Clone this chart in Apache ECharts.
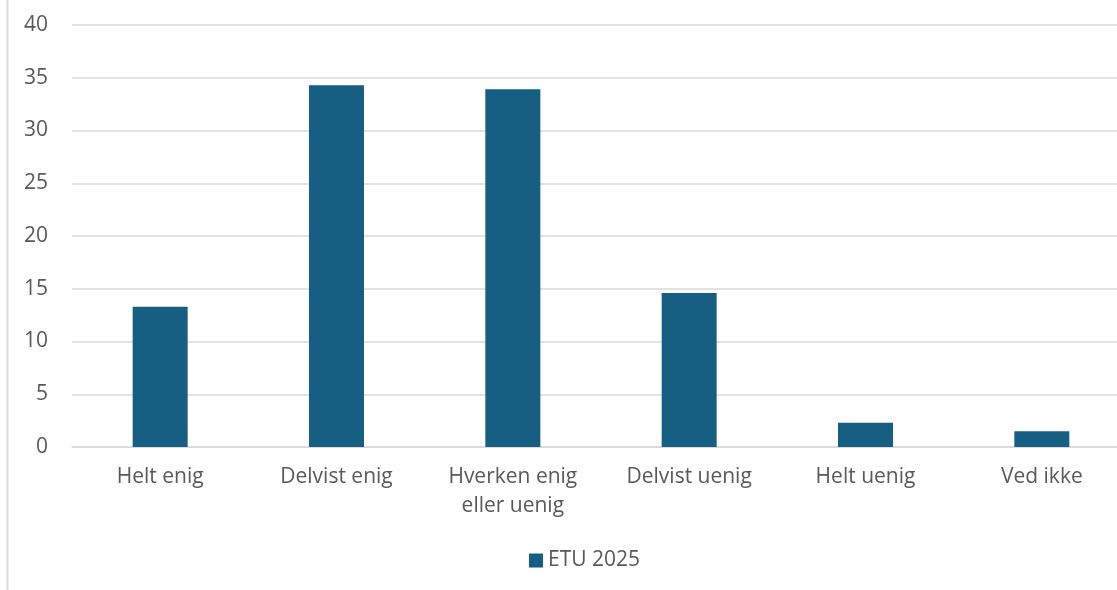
<!DOCTYPE html>
<html><head><meta charset="utf-8">
<script src="https://cdn.jsdelivr.net/npm/echarts@6/dist/echarts.min.js"></script>
<style>html,body{margin:0;padding:0;background:#fff;overflow:hidden}#c{width:1130px;height:590px}</style>
</head><body><div id="c"></div>
<script>
const categories = ['Helt enig', 'Delvist enig', 'Hverken enig\neller uenig', 'Delvist uenig', 'Helt uenig', 'Ved ikke'];
const seriesName = 'ETU 2025';
const values = [13.3, 34.3, 33.9, 14.6, 2.3, 1.5];
const yTicks = { min: 0, max: 40, interval: 5 };

const chart = echarts.init(document.getElementById('c'));
const font = '"Open Sans", "Liberation Sans", Arial, sans-serif';
const fs = 21;
chart.setOption({
  animation: false,
  textStyle: { fontFamily: font },
  grid: { left: 72, right: 0, top: 25, bottom: 143, containLabel: false },
  graphic: [{ type: 'line', shape: { x1: 7.5, y1: 0, x2: 7.5, y2: 590 }, style: { stroke: '#d9d9d9', lineWidth: 2 } }],
  legend: {
    data: [seriesName], top: 545, left: 524,
    itemWidth: 14, itemHeight: 14, itemGap: 6,
    icon: 'rect',
    textStyle: { color: '#595959', fontSize: fs, fontFamily: font }
  },
  xAxis: {
    type: 'category', data: categories,
    axisLine: { show: true, lineStyle: { color: '#d9d9d9', width: 1.5 } },
    axisTick: { show: false },
    axisLabel: { color: '#595959', fontSize: fs, margin: 16, lineHeight: 29, fontFamily: font, interval: 0 }
  },
  yAxis: {
    type: 'value', min: yTicks.min, max: yTicks.max, interval: yTicks.interval,
    axisLine: { show: false }, axisTick: { show: false },
    axisLabel: { color: '#595959', fontSize: fs, margin: 24, fontFamily: font },
    splitLine: { lineStyle: { color: '#d9d9d9', width: 1.5 } }
  },
  series: [{
    name: seriesName, type: 'bar', data: values, barWidth: 55,
    itemStyle: { color: '#175f82' }
  }]
});
</script></body></html>
